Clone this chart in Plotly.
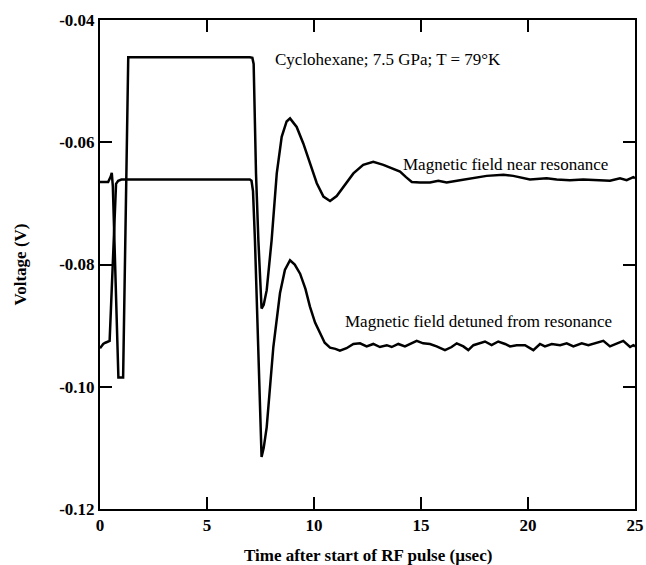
import plotly.graph_objects as go

# Magnetic field near resonance
near_t = [0, 0.38, 0.5, 0.55, 0.6, 0.86, 1.08, 1.25, 1.32, 7.0, 7.12, 7.18, 7.29, 7.4, 7.55,
          7.65, 7.79, 8.02, 8.26, 8.49, 8.72, 8.88, 9.19, 9.5, 9.81, 10.13, 10.44, 10.75, 11.06,
          11.3, 11.6, 11.84, 12.3, 12.77, 13.24, 13.63, 14.02, 14.3, 14.57, 14.95, 15.42, 15.81,
          16.2, 16.82, 17.29, 17.76, 18.07, 18.85, 19.31, 20.09, 20.87, 21.34, 21.96, 22.58,
          23.21, 23.83, 24.3, 24.61, 24.92, 25]
near_v = [-0.0665, -0.0665, -0.0656, -0.0650, -0.0672, -0.0985, -0.0985, -0.0629, -0.0461,
          -0.0461, -0.0462, -0.0472, -0.0651, -0.0760, -0.0872, -0.0866, -0.0842, -0.0760,
          -0.0651, -0.0591, -0.0566, -0.0561, -0.0575, -0.0602, -0.0635, -0.0667, -0.0689,
          -0.0696, -0.0688, -0.0677, -0.0663, -0.0651, -0.0637, -0.0632, -0.0637, -0.0643,
          -0.0648, -0.0657, -0.0665, -0.0666, -0.0666, -0.0663, -0.0666, -0.0662, -0.0659,
          -0.0657, -0.0655, -0.0653, -0.0655, -0.0661, -0.0659, -0.0661, -0.0662, -0.0661,
          -0.0662, -0.0663, -0.0659, -0.0662, -0.0657, -0.0659]

# Magnetic field detuned from resonance
det_t = [0, 0.15, 0.25, 0.45, 0.75, 0.85, 1.0, 7.0, 7.08, 7.15, 7.24, 7.55, 7.65, 7.79, 8.1,
         8.41, 8.64, 8.88, 9.1, 9.35, 9.6, 9.81, 10.05, 10.28, 10.5, 10.75, 11.0, 11.21, 11.52,
         11.84, 12.15, 12.46, 12.77, 13.08, 13.4, 13.63, 13.94, 14.25, 14.57, 14.8, 15.1, 15.42,
         15.73, 16.12, 16.43, 16.67, 16.98, 17.21, 17.45, 17.76, 17.99, 18.3, 18.61, 18.93,
         19.16, 19.47, 19.86, 20.25, 20.56, 20.79, 21.11, 21.5, 21.81, 22.12, 22.51, 22.82,
         23.13, 23.52, 23.83, 24.14, 24.45, 24.77, 24.92, 25]
det_v = [-0.0937, -0.0930, -0.0928, -0.0925, -0.0668, -0.0663, -0.0661, -0.0661, -0.0663,
         -0.0680, -0.0760, -0.1115, -0.1100, -0.1066, -0.0935, -0.0847, -0.0809, -0.0793,
         -0.0800, -0.0815, -0.0840, -0.0869, -0.0895, -0.0912, -0.0928, -0.0936, -0.0938,
         -0.0941, -0.0937, -0.0930, -0.0929, -0.0934, -0.0930, -0.0935, -0.0932, -0.0935,
         -0.0930, -0.0934, -0.0929, -0.0925, -0.0929, -0.0930, -0.0934, -0.0940, -0.0935,
         -0.0929, -0.0934, -0.0940, -0.0932, -0.0929, -0.0926, -0.0932, -0.0926, -0.0930,
         -0.0934, -0.0932, -0.0932, -0.0940, -0.0930, -0.0934, -0.0930, -0.0932, -0.0929,
         -0.0934, -0.0929, -0.0932, -0.0929, -0.0925, -0.0934, -0.0930, -0.0925, -0.0935,
         -0.0932, -0.0934]

x_ticks = [0, 5, 10, 15, 20, 25]
y_ticks = [-0.12, -0.10, -0.08, -0.06, -0.04]
y_labels = ["-0.12", "-0.10", "-0.08", "-0.06", "-0.04"]

serif = "Liberation Serif, Times New Roman, serif"

fig = go.Figure()
fig.add_trace(go.Scatter(x=near_t, y=near_v, mode="lines", line=dict(color="black", width=2.5)))
fig.add_trace(go.Scatter(x=det_t, y=det_v, mode="lines", line=dict(color="black", width=2.5)))

axis_style = dict(showline=True, linecolor="black", linewidth=2, mirror="ticks",
                  ticks="inside", ticklen=12, tickwidth=2, tickcolor="black",
                  showgrid=False, zeroline=False, automargin=False,
                  ticklabeloverflow="allow",
                  tickfont=dict(family=serif, size=17, color="black", weight="bold"))

fig.update_xaxes(range=[0, 25], tickvals=x_ticks, **axis_style)
fig.update_yaxes(range=[-0.12, -0.04], tickvals=y_ticks, ticktext=y_labels, **axis_style)

notes = [
    (8.1, -0.0465, "Cyclohexane; 7.5 GPa; T = 79°K"),
    (14.07, -0.0637, "Magnetic field near resonance"),
    (11.34, -0.0894, "Magnetic field detuned from resonance"),
]
for x, y, txt in notes:
    fig.add_annotation(x=x, y=y, text=txt, showarrow=False, xanchor="left", yanchor="middle",
                       font=dict(family=serif, size=17, color="black"))

# axis titles
title_font = dict(family=serif, size=17, color="black", weight="bold")
fig.add_annotation(x=0.5, y=0, xref="paper", yref="paper", yshift=-46,
                   text="Time after start of RF pulse (µsec)", showarrow=False,
                   xanchor="center", yanchor="middle", font=title_font)
fig.add_annotation(x=0, y=0.5, xref="paper", yref="paper", xshift=-80,
                   text="Voltage (V)", showarrow=False, textangle=-90,
                   xanchor="center", yanchor="middle", font=title_font)

fig.update_layout(width=646, height=565, showlegend=False,
                  plot_bgcolor="white", paper_bgcolor="white",
                  margin=dict(l=100, r=11, t=20, b=56))

# drop the default 8px body margin so the figure fills the window
fig.write_html("out.html", config={"displayModeBar": False},
               post_script="document.body.style.margin='0';")
